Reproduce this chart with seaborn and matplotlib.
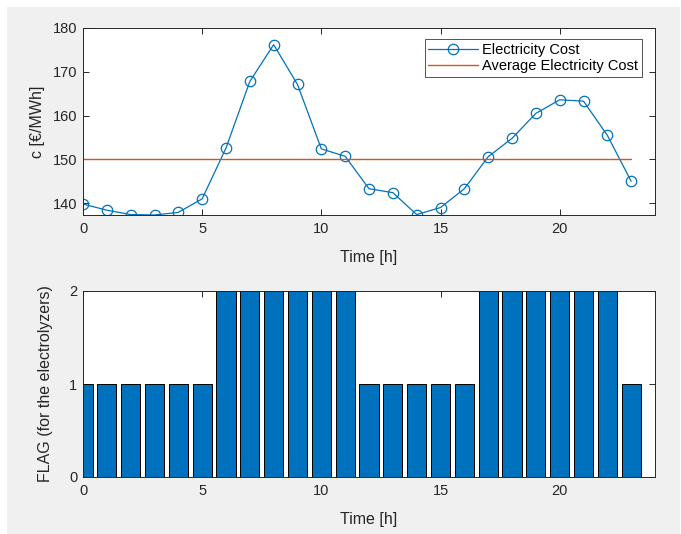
import numpy as np
import pandas as pd
import seaborn as sns
import matplotlib.pyplot as plt
from matplotlib.patches import Rectangle

# Hourly data
hours = list(range(24))
cost = [139.8, 138.4, 137.4, 137.3, 137.9, 141.0, 152.6, 167.8, 176.2, 167.1,
        152.4, 150.7, 143.3, 142.4, 137.4, 139.0, 143.3, 150.6, 154.8, 160.5,
        163.6, 163.3, 155.5, 145.0]
avg_cost = 150.0
flag = [1, 1, 1, 1, 1, 1, 2, 2, 2, 2, 2, 2, 1, 1, 1, 1, 1, 2, 2, 2, 2, 2, 2, 1]

blue = '#0072BD'
orange = '#D95319'
axis_col = '#262626'

sns.set_theme(style='ticks')
plt.rcParams['font.family'] = ['Liberation Sans', 'DejaVu Sans']
plt.rcParams['xtick.direction'] = 'in'
plt.rcParams['ytick.direction'] = 'in'
plt.rcParams['xtick.top'] = True
plt.rcParams['ytick.right'] = True
plt.rcParams['axes.edgecolor'] = axis_col
plt.rcParams['axes.linewidth'] = 0.7
plt.rcParams['xtick.color'] = axis_col
plt.rcParams['ytick.color'] = axis_col
plt.rcParams['xtick.labelsize'] = 10.5
plt.rcParams['ytick.labelsize'] = 10.5
plt.rcParams['xtick.major.size'] = 4
plt.rcParams['ytick.major.size'] = 4
plt.rcParams['xtick.major.width'] = 0.7
plt.rcParams['ytick.major.width'] = 0.7
plt.rcParams['xtick.major.pad'] = 5
plt.rcParams['ytick.major.pad'] = 4

df = pd.DataFrame({'hour': hours, 'cost': cost, 'avg': [avg_cost] * len(hours), 'flag': flag})

fig = plt.figure(figsize=(6.81, 5.34), dpi=100, facecolor='white')
fig.patches.append(Rectangle((7 / 681, 0), 673 / 681, 527 / 534, transform=fig.transFigure,
                             facecolor='#f0f0f0', edgecolor='none', zorder=-10))

ax1 = fig.add_axes([83 / 681, 1 - 215 / 534, 572 / 681, 187 / 534])
ax2 = fig.add_axes([83 / 681, 1 - 477 / 534, 572 / 681, 186 / 534])

# Top: electricity cost
sns.lineplot(data=df, x='hour', y='cost', ax=ax1, color=blue, lw=0.9, marker='o',
             markersize=7.5, markerfacecolor='none', markeredgecolor=blue,
             markeredgewidth=0.9, label='Electricity Cost')
sns.lineplot(data=df, x='hour', y='avg', ax=ax1, color=orange, lw=1.0,
             label='Average Electricity Cost')
ax1.set_xlim(0, 24)
ax1.set_ylim(137.3, 180)
ax1.set_xticks([0, 5, 10, 15, 20])
ax1.set_yticks([140, 150, 160, 170, 180])
ax1.set_xlabel('Time [h]', fontsize=11.5, color=axis_col, labelpad=10)
ax1.set_ylabel('c [€/MWh]', fontsize=11.5, color=axis_col, labelpad=6)
leg = ax1.legend(loc='upper right', bbox_to_anchor=(0.977, 0.94), fontsize=10.5,
                 frameon=True, fancybox=False, borderpad=0.25, labelspacing=0.15,
                 handlelength=3.4, handletextpad=0.3, borderaxespad=0)
leg.get_frame().set_edgecolor(axis_col)
leg.get_frame().set_linewidth(0.7)
for t in leg.get_texts():
    t.set_color('black')

# Bottom: flag bars
sns.barplot(data=df, x='hour', y='flag', ax=ax2, native_scale=True, width=0.8,
            color=blue, saturation=1, edgecolor='black', linewidth=0.7)
ax2.set_xlim(0, 24)
ax2.set_ylim(0, 2)
ax2.set_xticks([0, 5, 10, 15, 20])
ax2.set_yticks([0, 1, 2])
ax2.set_xlabel('Time [h]', fontsize=11.5, color=axis_col, labelpad=10)
ax2.set_ylabel('FLAG (for the electrolyzers)', fontsize=11.5, color=axis_col, labelpad=12)

for ax in (ax1, ax2):
    ax.set_facecolor('white')
    for s in ax.spines.values():
        s.set_visible(True)
        s.set_zorder(5)

fig.savefig('out.png', dpi=100, facecolor=fig.get_facecolor())
